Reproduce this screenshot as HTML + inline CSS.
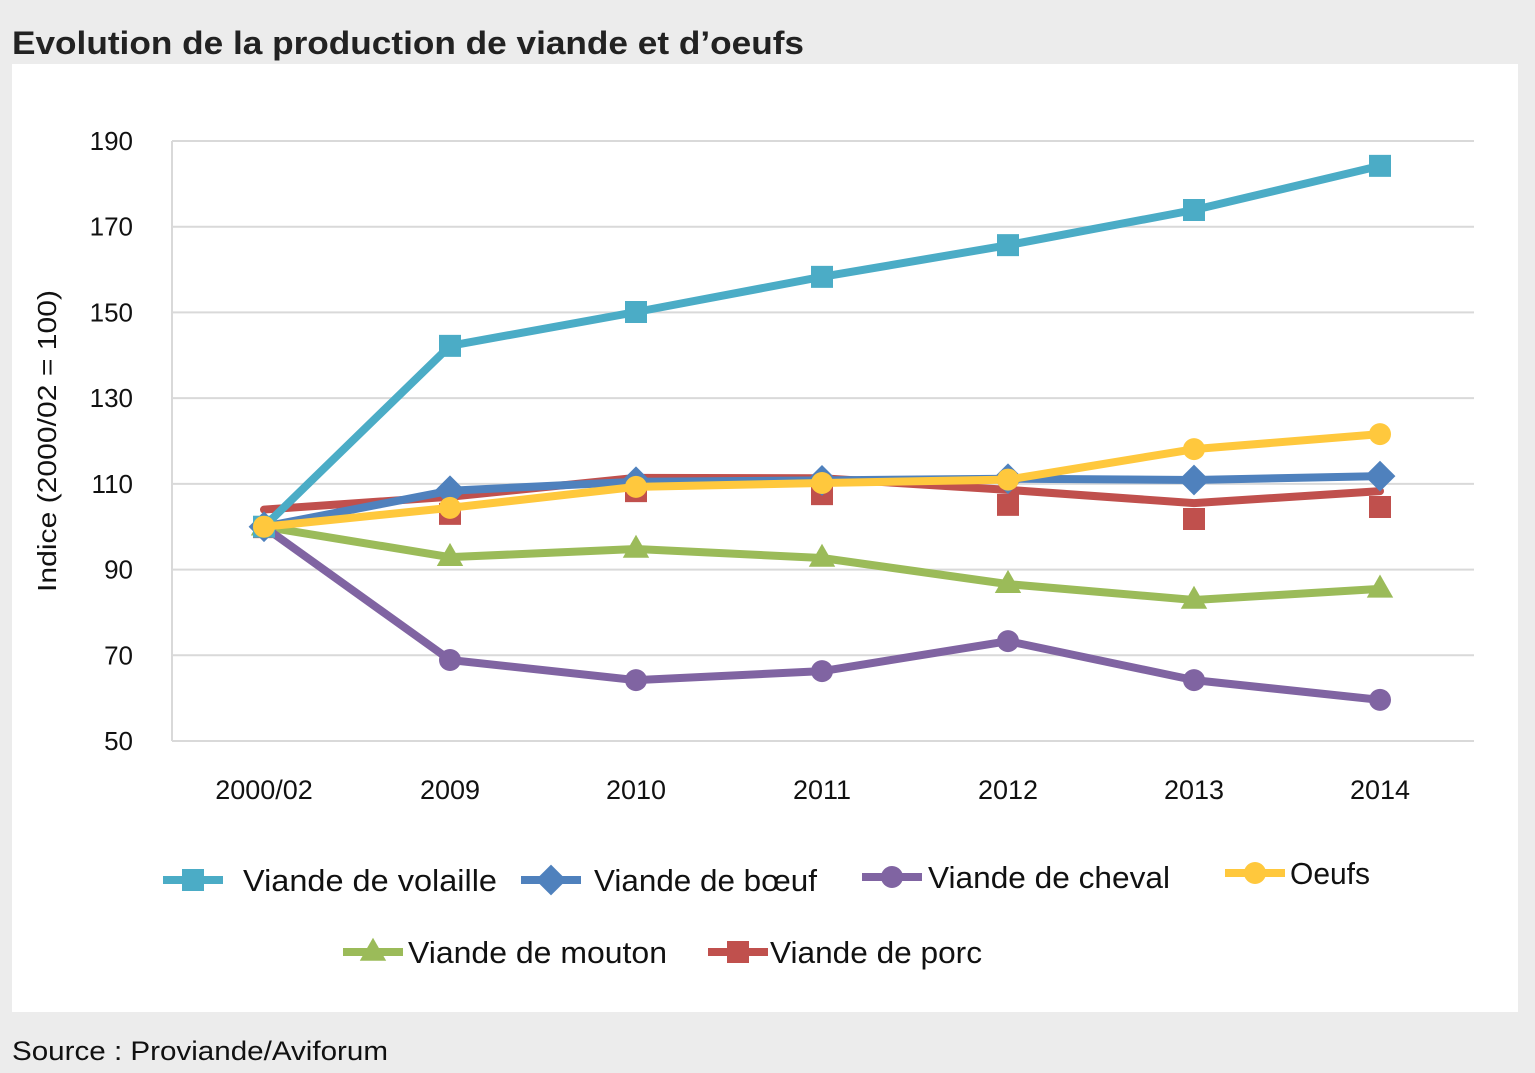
<!DOCTYPE html>
<html><head><meta charset="utf-8"><style>
body{margin:0;background:#ececec;width:1535px;height:1068px;overflow:hidden;font-family:"Liberation Sans",sans-serif}
svg text{font-family:"Liberation Sans",sans-serif}
</style></head><body>
<svg width="1535" height="1068">
<text x="12" y="54" font-size="32" font-weight="bold" fill="#222" textLength="792" lengthAdjust="spacingAndGlyphs">Evolution de la production de viande et d’oeufs</text>
<rect x="12" y="64" width="1506" height="948" fill="#fff"/>
<g id="grid"></g><g id="series"></g><g id="legend"></g>
<text transform="translate(56,441) rotate(-90)" font-size="26" text-anchor="middle" fill="#111" textLength="302" lengthAdjust="spacingAndGlyphs">Indice (2000/02 = 100)</text>
<text x="12" y="1060" font-size="27" fill="#111" textLength="376" lengthAdjust="spacingAndGlyphs">Source : Proviande/Aviforum</text>
</svg>
<script>
const categories=["2000/02","2009","2010","2011","2012","2013","2014"];
const yTicks=[50,70,90,110,130,150,170,190];
const volaille=[100,142.2,150.1,158.3,165.7,173.9,184.2];
const boeuf=[100,108.4,110.5,110.8,111.2,110.9,111.8];
const cheval=[100,68.9,64.2,66.3,73.3,64.2,59.6];
const oeufs=[100,104.4,109.3,110.2,111,118.1,121.6];
const mouton=[100,92.9,94.8,92.7,86.6,82.9,85.5];
const porcLine=[104,107,111.4,111.3,108.6,105.5,108.3];
const porcMarkers=[99.9,103,108.3,107.6,105.1,101.8,104.6];
const NS="http://www.w3.org/2000/svg";
const X=i=>264+i*186, Y=v=>741-(v-50)*600/140;
function mk(tag,at,parent){const e=document.createElementNS(NS,tag);for(const k in at)e.setAttribute(k,at[k]);document.getElementById(parent).appendChild(e);return e;}
yTicks.forEach(t=>{
 const l=mk('line',{x1:172,x2:1474,y1:Y(t),y2:Y(t),stroke:'#d9d9d9','stroke-width':2},'grid');
 
 
 const tx=mk('text',{x:133,y:Y(t)+9,'font-size':26,'text-anchor':'end',fill:'#111'},'grid');tx.textContent=t;
 
 
});
const ax=mk('line',{x1:172,x2:172,y1:141,y2:741,stroke:'#d9d9d9','stroke-width':2},'grid');


categories.forEach((c,i)=>{
 const tx=mk('text',{x:X(i),y:799,'font-size':27,'text-anchor':'middle',fill:'#111'},'grid');tx.textContent=c;
 
 
});
function marker(type,x,y,col,g,s){
 let e;
 if(type==='sq')e=mk('rect',{x:x-s,y:y-s,width:2*s,height:2*s,fill:col},g);
 else if(type==='di')e=mk('polygon',{points:`${x},${y-s*1.4} ${x+s*1.4},${y} ${x},${y+s*1.4} ${x-s*1.4},${y}`,fill:col},g);
 else if(type==='ci')e=mk('circle',{cx:x,cy:y,r:s,fill:col},g);
 else e=mk('polygon',{points:`${x},${y-s*1.3} ${x+s*1.2},${y+s*0.8} ${x-s*1.2},${y+s*0.8}`,fill:col},g);
 return e;
}
const series=[
 {n:'porc',line:porcLine,mk:porcMarkers,c:'#c0504d',t:'sq',label:'Viande de porc',lx:708,ly:952,tx:770,tw:212},
 {n:'mouton',line:mouton,mk:mouton,c:'#9bbb59',t:'tr',label:'Viande de mouton',lx:343,ly:952,tx:408,tw:259},
 {n:'cheval',line:cheval,mk:cheval,c:'#8064a2',t:'ci',label:'Viande de cheval',lx:862,ly:877,tx:928,tw:242},
 {n:'boeuf',line:boeuf,mk:boeuf,c:'#4f81bd',t:'di',label:'Viande de bœuf',lx:521,ly:880,tx:594,tw:223},
 {n:'volaille',line:volaille,mk:volaille,c:'#4bacc6',t:'sq',label:'Viande de volaille',lx:163,ly:880,tx:243,tw:254},
 {n:'oeufs',line:oeufs,mk:oeufs,c:'#ffc83d',t:'ci',label:'Oeufs',lx:1225,ly:873,tx:1290,tw:80}
];
series.forEach(s=>{
 const p=mk('polyline',{points:s.line.map((v,i)=>X(i)+','+Y(v)).join(' '),fill:'none',stroke:s.c,'stroke-width':8,'stroke-linejoin':'round','stroke-linecap':'round'},'series');
 
 
 s.mk.forEach((v,i)=>{const m=marker(s.t,X(i),Y(v),s.c,'series',11);
  
  });
 const ll=mk('line',{x1:s.lx,x2:s.lx+60,y1:s.ly,y2:s.ly,stroke:s.c,'stroke-width':8},'legend');
 
 
 const lm=marker(s.t,s.lx+30,s.ly,s.c,'legend',11);
 
 
 const lt=mk('text',{x:s.tx,y:s.ly+11,'font-size':31,fill:'#111',textLength:s.tw,lengthAdjust:'spacingAndGlyphs'},'legend');lt.textContent=s.label;
 
 
});
</script>
</body></html>
